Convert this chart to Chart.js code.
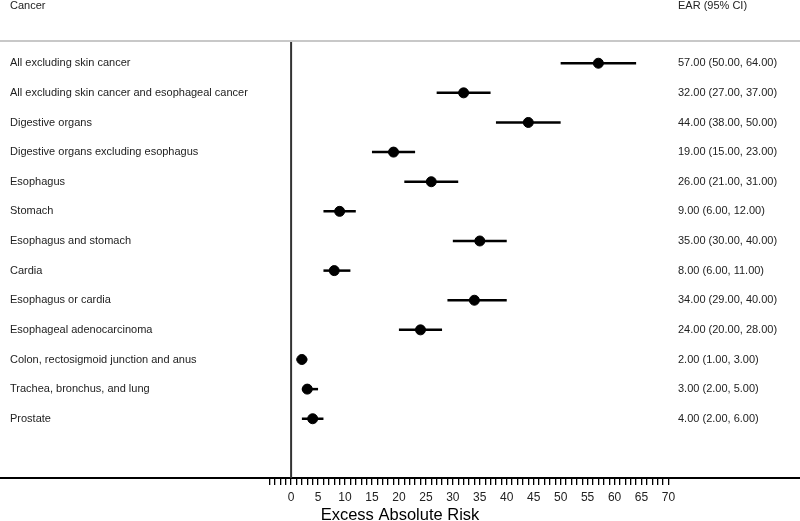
<!DOCTYPE html>
<html>
<head>
    <title>Excess Absolute Risk</title>
    <script src="https://cdn.jsdelivr.net/npm/chart.js"></script>
    <style>
        html, body { margin: 0; padding: 0; background: #fff; }
        #wrap { width: 800px; height: 521px; }
    </style>
</head>
<body>
    <div id="wrap"><canvas id="forest"></canvas></div>

    <script>
        // Data
        const cancers = [
            'All excluding skin cancer',
            'All excluding skin cancer and esophageal cancer',
            'Digestive organs',
            'Digestive organs excluding esophagus',
            'Esophagus',
            'Stomach',
            'Esophagus and stomach',
            'Cardia',
            'Esophagus or cardia',
            'Esophageal adenocarcinoma',
            'Colon, rectosigmoid junction and anus',
            'Trachea, bronchus, and lung',
            'Prostate'
        ];
        const ear   = [57, 32, 44, 19, 26, 9, 35, 8, 34, 24, 2, 3, 4];
        const ciLow = [50, 27, 38, 15, 21, 6, 30, 6, 29, 20, 1, 2, 2];
        const ciHigh = [64, 37, 50, 23, 31, 12, 40, 11, 40, 28, 3, 5, 6];
        const tickValues = [];
        for (let v = -4; v <= 70; v++) tickValues.push(v);

        const fmt = v => v.toFixed(2);
        const earText = ear.map((v, i) => `${fmt(v)} (${fmt(ciLow[i])}, ${fmt(ciHigh[i])})`);

        const FONT = "'Liberation Sans', Arial, sans-serif";
        Chart.defaults.font.family = FONT;
        Chart.defaults.color = '#222';

        // whiskers, zero line, header and text columns
        const forestPlugin = {
            id: 'forest',
            beforeDatasetsDraw(chart) {
                const { ctx, scales: { x, y }, chartArea } = chart;
                ctx.save();
                // zero reference line
                ctx.strokeStyle = '#333';
                ctx.lineWidth = 2;
                ctx.beginPath();
                ctx.moveTo(x.getPixelForValue(0), chartArea.top);
                ctx.lineTo(x.getPixelForValue(0), chartArea.bottom);
                ctx.stroke();
                // confidence intervals
                ctx.strokeStyle = '#000';
                ctx.lineWidth = 2.5;
                cancers.forEach((c, i) => {
                    const py = y.getPixelForValue(i);
                    ctx.beginPath();
                    ctx.moveTo(x.getPixelForValue(ciLow[i]), py);
                    ctx.lineTo(x.getPixelForValue(ciHigh[i]), py);
                    ctx.stroke();
                });
                ctx.restore();
            },
            afterDraw(chart) {
                const { ctx, scales: { y }, chartArea } = chart;
                ctx.save();
                // header separator
                ctx.strokeStyle = '#c8c8c8';
                ctx.lineWidth = 2;
                ctx.beginPath();
                ctx.moveTo(0, chartArea.top);
                ctx.lineTo(chart.width, chartArea.top);
                ctx.stroke();

                ctx.fillStyle = '#222';
                ctx.font = '11px ' + FONT;
                ctx.textBaseline = 'middle';
                ctx.textAlign = 'left';
                ctx.fillText('Cancer', 10, 6);
                ctx.fillText('EAR (95% CI)', 678, 6);
                cancers.forEach((c, i) => {
                    const py = y.getPixelForValue(i);
                    ctx.fillText(c, 10, py);
                    ctx.fillText(earText[i], 678, py);
                });
                ctx.restore();
            }
        };

        new Chart(document.getElementById('forest'), {
            type: 'scatter',
            data: {
                datasets: [{
                    data: ear.map((v, i) => ({ x: v, y: i })),
                    backgroundColor: '#000',
                    borderColor: '#000',
                    pointRadius: 5,
                    pointHoverRadius: 5
                }]
            },
            options: {
                responsive: true,
                maintainAspectRatio: false,
                animation: false,
                layout: { autoPadding: false, padding: { top: 41, left: 0, right: 0, bottom: 0 } },
                plugins: {
                    legend: { display: false },
                    tooltip: { enabled: false }
                },
                scales: {
                    x: {
                        type: 'linear',
                        min: -54,
                        max: 94.4,
                        afterBuildTicks: scale => {
                            scale.ticks = tickValues.map(v => ({ value: v }));
                        },
                        afterFit: scale => { scale.height = 43; },
                        ticks: {
                            autoSkip: false,
                            maxRotation: 0,
                            padding: 5,
                            color: '#222',
                            font: { family: FONT, size: 12 },
                            callback: v => (v >= 0 && v % 5 === 0) ? String(v) : ''
                        },
                        grid: {
                            drawOnChartArea: false,
                            drawTicks: true,
                            tickLength: 7,
                            color: '#000',
                            lineWidth: 1.3
                        },
                        border: { display: true, color: '#000', width: 2 },
                        title: {
                            display: true,
                            text: 'Excess Absolute Risk',
                            color: '#000',
                            font: { family: FONT, size: 16.5, lineHeight: 0.7 },
                            padding: { top: 0, bottom: 0 }
                        }
                    },
                    y: {
                        type: 'linear',
                        display: false,
                        reverse: true,
                        min: -0.75,
                        max: 14
                    }
                }
            },
            plugins: [forestPlugin]
        });
    </script>
</body>
</html>
